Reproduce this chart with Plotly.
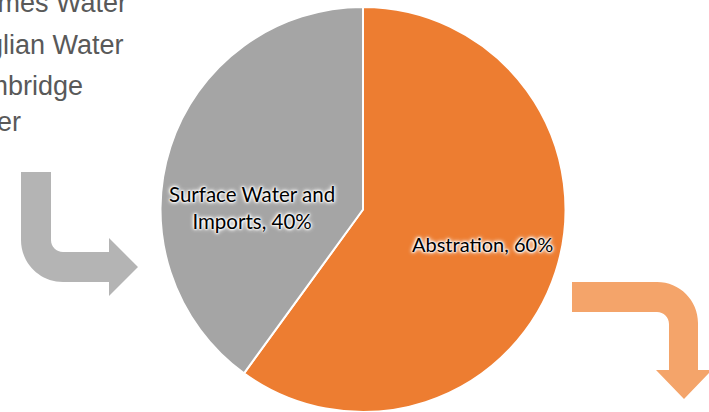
import plotly.graph_objects as go

# ---- data ----
labels = ["Abstration", "Surface Water and Imports"]
label_display = ["Abstration", "Surface Water and<br>Imports"]
values = [60, 40]
slice_colors = ["#ED7D31", "#A5A5A5"]
side_lines = ["Thames Water", "Anglian Water", "Cambridge", "Water"]

W, H = 709, 412
T = 7
PH = H - T


def px(x):
    return x / W


def py(y):
    return (H - y) / PH


fig = go.Figure()
cx, r = 363, PH / 2
fig.add_trace(go.Pie(
    labels=labels, values=values, sort=False, direction="clockwise", rotation=0,
    marker=dict(colors=slice_colors, line=dict(color="white", width=2)),
    textinfo="none", hoverinfo="label+percent", showlegend=False,
    domain=dict(x=[(cx - r) / W, (cx + r) / W], y=[0, 1]),
))

annotations = []
# data labels
label_pos = [(482, 244), (252, 207)]
label_sizes = [20, 20.5]
glow = ("0px 0px 2px #ffffff, 0px 0px 2px #ffffff, 0px 0px 3px #ffffff, "
        "0px 0px 4px #ffffff, 0px 0px 5px #ffffff")
for (x, y), lab, v, s in zip(label_pos, label_display, values, label_sizes):
    annotations.append(dict(
        x=px(x), y=py(y), xref="paper", yref="paper", xanchor="center", yanchor="middle",
        text=f"{lab}, {v}%", showarrow=False, align="center",
        font=dict(family="Lato, Carlito, sans-serif", size=s, color="#000000", shadow=glow),
    ))

# side text lines (cropped text box at the left)
side_pos = [(129, 3), (126, 45), (85, 86), (23, 122)]
for (x, y), t in zip(side_pos, side_lines):
    annotations.append(dict(
        x=px(x), y=py(y), xref="paper", yref="paper", xanchor="right", yanchor="middle",
        text=t, showarrow=False,
        font=dict(family="Liberation Sans, Arial, sans-serif", size=27, color="#595959"),
    ))


def path(points):
    out = []
    for cmd, pts in points:
        if cmd == "Z":
            out.append("Z")
            continue
        coords = " ".join(f"{px(a):.5f},{py(b):.5f}" for a, b in pts)
        out.append(f"{cmd} {coords}")
    return " ".join(out)


k = 0.5523
Ro, Ri = 42, 12
# gray arrow: down then right
gray = [
    ("M", [(21, 172)]), ("L", [(51, 172)]), ("L", [(51, 240)]),
    ("C", [(51, 240 + k * Ri), (63 - k * Ri, 252), (63, 252)]),
    ("L", [(109, 252)]), ("L", [(109, 238)]), ("L", [(138, 267)]), ("L", [(109, 296)]),
    ("L", [(109, 282)]), ("L", [(63, 282)]),
    ("C", [(63 - k * Ro, 282), (21, 240 + k * Ro), (21, 240)]),
    ("Z", []),
]
# orange arrow: right then down
orange = [
    ("M", [(572, 282)]), ("L", [(657, 282)]),
    ("C", [(657 + k * 41, 282), (698, 323 - k * 41), (698, 323)]),
    ("L", [(698, 370)]), ("L", [(712, 370)]), ("L", [(684, 399)]), ("L", [(656, 370)]),
    ("L", [(669, 370)]), ("L", [(669, 324)]),
    ("C", [(669, 324 - k * Ri), (657 + k * Ri, 312), (657, 312)]),
    ("L", [(572, 312)]), ("Z", []),
]
shapes = [
    dict(type="path", xref="paper", yref="paper", path=path(gray),
         fillcolor="#B4B4B4", line=dict(width=0), layer="above"),
    dict(type="path", xref="paper", yref="paper", path=path(orange),
         fillcolor="#F4A46A", line=dict(width=0), layer="above"),
]

fig.update_layout(
    width=W, height=H,
    margin=dict(l=0, r=0, t=T, b=0),
    paper_bgcolor="white", plot_bgcolor="white",
    annotations=annotations, shapes=shapes,
)

fig.write_html("out.html")
